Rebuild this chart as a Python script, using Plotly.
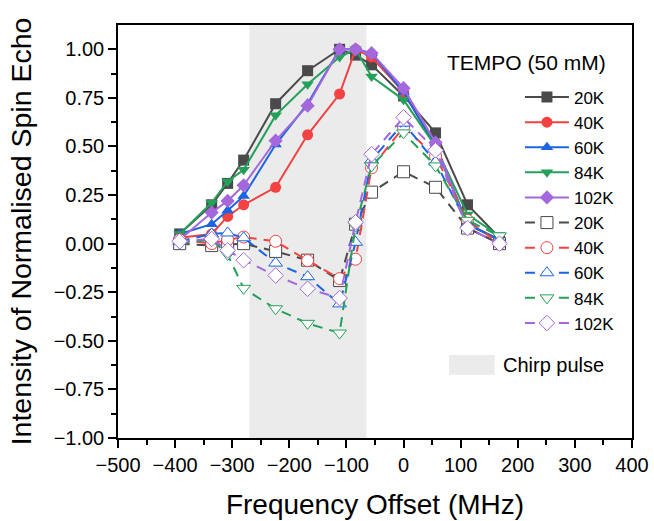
import plotly.graph_objects as go

freq = [-392, -336, -308, -280, -224, -168, -112, -84, -56, 0, 56, 112, 168]
temps = ["20K", "40K", "60K", "84K", "102K"]

# normalised echo intensity, filled symbols (solid lines)
echo_20k = [0.05, 0.20, 0.31, 0.43, 0.72, 0.89, 1.00, 0.97, 0.92, 0.76, 0.57, 0.20, 0.03]
echo_40k = [0.03, 0.05, 0.14, 0.20, 0.29, 0.56, 0.77, 1.00, 0.96, 0.78, 0.50, 0.10, 0.02]
echo_60k = [0.05, 0.10, 0.17, 0.245, 0.51, 0.72, 1.00, 1.00, 0.98, 0.78, 0.50, 0.10, 0.02]
echo_84k = [0.05, 0.21, 0.32, 0.38, 0.66, 0.82, 0.96, 1.00, 0.86, 0.74, 0.50, 0.15, 0.04]
echo_102k = [0.02, 0.16, 0.22, 0.30, 0.53, 0.71, 1.00, 1.00, 0.98, 0.80, 0.52, 0.08, 0.00]

# open symbols (dashed lines)
open_20k = [0.00, -0.01, -0.005, 0.00, -0.04, -0.085, -0.19, 0.10, 0.265, 0.37, 0.29, 0.08, 0.00]
open_40k = [0.02, 0.00, 0.02, 0.034, 0.012, -0.087, -0.18, -0.08, 0.39, 0.60, 0.45, 0.12, 0.00]
open_60k = [0.012, 0.05, 0.055, 0.03, -0.10, -0.17, -0.31, 0.007, 0.43, 0.62, 0.42, 0.10, 0.02]
open_84k = [0.003, 0.02, -0.056, -0.23, -0.335, -0.41, -0.46, 0.09, 0.40, 0.57, 0.40, 0.12, 0.04]
open_102k = [0.012, 0.024, -0.034, -0.085, -0.164, -0.232, -0.28, 0.11, 0.46, 0.65, 0.48, 0.08, 0.00]

chirp_start, chirp_end = -270, -65

colors = ["#4a4a4a", "#f24242", "#1c64e0", "#24a05a", "#a468dc"]
symbols = ["square", "circle", "triangle-up", "triangle-down", "diamond"]
solid = [echo_20k, echo_40k, echo_60k, echo_84k, echo_102k]
dashed = [open_20k, open_40k, open_60k, open_84k, open_102k]

fig = go.Figure()
for name, ys, c, s in zip(temps, solid, colors, symbols):
    fig.add_scatter(x=freq, y=ys, name=name, mode="lines+markers",
                    line=dict(color=c, width=2),
                    marker=dict(symbol=s, size=11, color=c, line=dict(width=0)))
for name, ys, c, s in zip(temps, dashed, colors, symbols):
    fig.add_scatter(x=freq, y=ys, name=name, mode="lines+markers",
                    line=dict(color=c, width=2, dash="10px,7px"),
                    marker=dict(symbol=s, size=12, color="white", line=dict(width=1, color=c)))

# chirp pulse band
fig.add_vrect(x0=chirp_start, x1=chirp_end, fillcolor="#ebebeb", line_width=0, layer="below")

# legend decorations: title and the chirp pulse swatch
fig.add_annotation(text="TEMPO (50 mM)", xref="paper", yref="paper",
                   x=0.636, y=0.908, xanchor="left", yanchor="middle",
                   showarrow=False, font=dict(size=21, color="black"))
fig.add_shape(type="rect", xref="paper", yref="paper", x0=0.644, x1=0.733, y0=0.153, y1=0.201,
              fillcolor="#ebebeb", line_width=0)
fig.add_annotation(text="Chirp pulse", xref="paper", yref="paper",
                   x=0.745, y=0.177, xanchor="left", yanchor="middle",
                   showarrow=False, font=dict(size=20, color="black"))

axis_common = dict(showline=True, linecolor="black", linewidth=1.5, mirror=True,
                   ticks="outside", ticklen=8, tickwidth=1.5, tickcolor="black",
                   showgrid=False, zeroline=False, automargin=False,
                   tickfont=dict(size=20, color="black"))
minor_common = dict(ticks="outside", ticklen=5, tickwidth=1.5, tickcolor="black")

fig.update_xaxes(range=[-500, 400], dtick=100, tick0=-500,
                 minor=dict(dtick=50, **minor_common),
                 title=dict(text="Frequency Offset (MHz)", font=dict(size=28, color="black"),
                            standoff=20),
                 **axis_common)
fig.update_yaxes(range=[-1, 1.125], tickvals=[-1, -0.75, -0.5, -0.25, 0, 0.25, 0.5, 0.75, 1],
                 tickformat=".2f",
                 minor=dict(tickvals=[-0.875, -0.625, -0.375, -0.125, 0.125, 0.375, 0.625, 0.875],
                            **minor_common),
                 title=dict(text="Intensity of Normalised Spin Echo", font=dict(size=28.5, color="black"),
                            standoff=14),
                 **axis_common)

fig.update_layout(
    width=654, height=521,
    margin=dict(l=118, r=22, t=25, b=83),
    plot_bgcolor="white", paper_bgcolor="white",
    font=dict(family="Liberation Sans, Arial, sans-serif", color="black"),
    showlegend=True,
    legend=dict(x=0.782, y=0.868, xanchor="left", yanchor="top", bgcolor="rgba(0,0,0,0)",
                font=dict(size=17), tracegroupgap=0, itemwidth=44),
)

fig.write_html("out.html", config={"displayModeBar": False},
               post_script="document.body.style.margin='0px';")
